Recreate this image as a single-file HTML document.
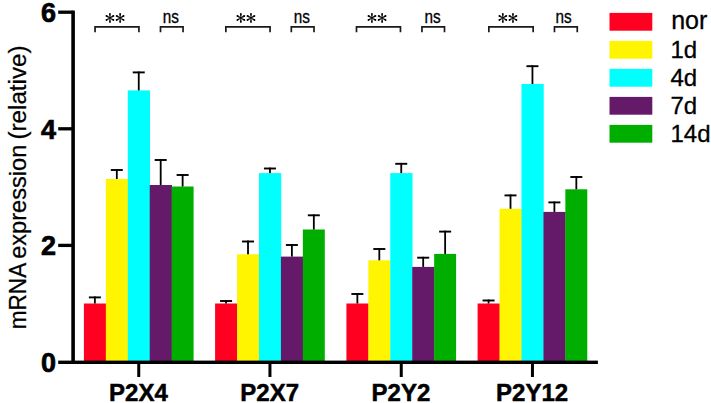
<!DOCTYPE html><html><head><meta charset="utf-8"><style>html,body{margin:0;padding:0;background:#fff;width:711px;height:403px;overflow:hidden}svg{display:block}text{font-family:"Liberation Sans",sans-serif}</style></head><body>
<svg width="711" height="403" viewBox="0 0 711 403">
<rect x="83.90" y="303.50" width="22.24" height="58.00" fill="#ff0020"/>
<rect x="105.84" y="179.00" width="22.24" height="182.50" fill="#fff500"/>
<rect x="127.78" y="90.40" width="22.24" height="271.10" fill="#00ffff"/>
<rect x="149.72" y="185.00" width="22.24" height="176.50" fill="#641a68"/>
<rect x="171.66" y="186.50" width="21.94" height="175.00" fill="#00ae00"/>
<rect x="215.10" y="303.50" width="22.24" height="58.00" fill="#ff0020"/>
<rect x="237.04" y="254.30" width="22.24" height="107.20" fill="#fff500"/>
<rect x="258.98" y="173.10" width="22.24" height="188.40" fill="#00ffff"/>
<rect x="280.92" y="256.60" width="22.24" height="104.90" fill="#641a68"/>
<rect x="302.86" y="229.50" width="21.94" height="132.00" fill="#00ae00"/>
<rect x="346.40" y="303.50" width="22.24" height="58.00" fill="#ff0020"/>
<rect x="368.34" y="260.30" width="22.24" height="101.20" fill="#fff500"/>
<rect x="390.28" y="173.10" width="22.24" height="188.40" fill="#00ffff"/>
<rect x="412.22" y="266.90" width="22.24" height="94.60" fill="#641a68"/>
<rect x="434.16" y="253.90" width="21.94" height="107.60" fill="#00ae00"/>
<rect x="477.60" y="303.50" width="22.24" height="58.00" fill="#ff0020"/>
<rect x="499.54" y="208.80" width="22.24" height="152.70" fill="#fff500"/>
<rect x="521.48" y="84.00" width="22.24" height="277.50" fill="#00ffff"/>
<rect x="543.42" y="211.90" width="22.24" height="149.60" fill="#641a68"/>
<rect x="565.36" y="189.30" width="21.94" height="172.20" fill="#00ae00"/>
<rect x="93.97" y="296.50" width="1.8" height="7.00" fill="#000"/>
<rect x="88.87" y="296.45" width="12" height="1.9" fill="#000"/>
<rect x="115.91" y="169.10" width="1.8" height="9.90" fill="#000"/>
<rect x="110.81" y="169.05" width="12" height="1.9" fill="#000"/>
<rect x="137.85" y="71.50" width="1.8" height="18.90" fill="#000"/>
<rect x="132.75" y="71.45" width="12" height="1.9" fill="#000"/>
<rect x="159.79" y="159.10" width="1.8" height="25.90" fill="#000"/>
<rect x="154.69" y="159.05" width="12" height="1.9" fill="#000"/>
<rect x="181.73" y="174.10" width="1.8" height="12.40" fill="#000"/>
<rect x="176.63" y="174.05" width="12" height="1.9" fill="#000"/>
<rect x="225.17" y="300.10" width="1.8" height="3.40" fill="#000"/>
<rect x="220.07" y="300.05" width="12" height="1.9" fill="#000"/>
<rect x="247.11" y="240.60" width="1.8" height="13.70" fill="#000"/>
<rect x="242.01" y="240.55" width="12" height="1.9" fill="#000"/>
<rect x="269.05" y="167.60" width="1.8" height="5.50" fill="#000"/>
<rect x="263.95" y="167.55" width="12" height="1.9" fill="#000"/>
<rect x="290.99" y="244.10" width="1.8" height="12.50" fill="#000"/>
<rect x="285.89" y="244.05" width="12" height="1.9" fill="#000"/>
<rect x="312.93" y="214.40" width="1.8" height="15.10" fill="#000"/>
<rect x="307.83" y="214.35" width="12" height="1.9" fill="#000"/>
<rect x="356.47" y="293.10" width="1.8" height="10.40" fill="#000"/>
<rect x="351.37" y="293.05" width="12" height="1.9" fill="#000"/>
<rect x="378.41" y="248.10" width="1.8" height="12.20" fill="#000"/>
<rect x="373.31" y="248.05" width="12" height="1.9" fill="#000"/>
<rect x="400.35" y="162.90" width="1.8" height="10.20" fill="#000"/>
<rect x="395.25" y="162.85" width="12" height="1.9" fill="#000"/>
<rect x="422.29" y="256.80" width="1.8" height="10.10" fill="#000"/>
<rect x="417.19" y="256.75" width="12" height="1.9" fill="#000"/>
<rect x="444.23" y="230.70" width="1.8" height="23.20" fill="#000"/>
<rect x="439.13" y="230.65" width="12" height="1.9" fill="#000"/>
<rect x="487.67" y="299.60" width="1.8" height="3.90" fill="#000"/>
<rect x="482.57" y="299.55" width="12" height="1.9" fill="#000"/>
<rect x="509.61" y="194.50" width="1.8" height="14.30" fill="#000"/>
<rect x="504.51" y="194.45" width="12" height="1.9" fill="#000"/>
<rect x="531.55" y="65.30" width="1.8" height="18.70" fill="#000"/>
<rect x="526.45" y="65.25" width="12" height="1.9" fill="#000"/>
<rect x="553.49" y="201.50" width="1.8" height="10.40" fill="#000"/>
<rect x="548.39" y="201.45" width="12" height="1.9" fill="#000"/>
<rect x="575.43" y="176.10" width="1.8" height="13.20" fill="#000"/>
<rect x="570.33" y="176.05" width="12" height="1.9" fill="#000"/>
<rect x="71.3" y="10.6" width="3.6" height="353.4" fill="#000"/>
<rect x="58.2" y="360.6" width="539.7" height="3.4" fill="#000"/>
<rect x="58.2" y="10.55" width="15" height="3.3" fill="#000"/>
<rect x="58.2" y="127.15" width="15" height="3.3" fill="#000"/>
<rect x="58.2" y="243.75" width="15" height="3.3" fill="#000"/>
<rect x="137.25" y="362" width="3" height="15" fill="#000"/>
<rect x="268.45" y="362" width="3" height="15" fill="#000"/>
<rect x="399.75" y="362" width="3" height="15" fill="#000"/>
<rect x="530.95" y="362" width="3" height="15" fill="#000"/>
<text x="56" y="371.80" font-size="27" font-weight="bold" text-anchor="end" stroke="#000" stroke-width="0.7">0</text>
<text x="56" y="255.20" font-size="27" font-weight="bold" text-anchor="end" stroke="#000" stroke-width="0.7">2</text>
<text x="56" y="138.60" font-size="27" font-weight="bold" text-anchor="end" stroke="#000" stroke-width="0.7">4</text>
<text x="56" y="22.00" font-size="27" font-weight="bold" text-anchor="end" stroke="#000" stroke-width="0.7">6</text>
<text x="138.45" y="401.2" font-size="24" font-weight="bold" text-anchor="middle" stroke="#000" stroke-width="0.5">P2X4</text>
<text x="269.65" y="401.2" font-size="24" font-weight="bold" text-anchor="middle" stroke="#000" stroke-width="0.5">P2X7</text>
<text x="400.95" y="401.2" font-size="24" font-weight="bold" text-anchor="middle" stroke="#000" stroke-width="0.5">P2Y2</text>
<text x="532.15" y="401.2" font-size="24" font-weight="bold" text-anchor="middle" stroke="#000" stroke-width="0.5">P2Y12</text>
<text transform="translate(26,329.20) rotate(-90) scale(0.9680,1)" font-size="23.3" stroke="#000" stroke-width="0.25">mRNA</text>
<text transform="translate(26,258.80) rotate(-90) scale(1.0130,1)" font-size="23.3" stroke="#000" stroke-width="0.25">expression</text>
<text transform="translate(26,139.60) rotate(-90) scale(1.0400,1)" font-size="23.3" stroke="#000" stroke-width="0.25">(relative)</text>
<path d="M95.06 32.3V26.9H138.93V32.3" fill="none" stroke="#1a1a1a" stroke-width="1.7"/>
<path d="M110.26 17.93L110.86 13.93L109.02 13.93L109.62 17.93ZM109.02 13.93a0.92 0.92 0 1 0 1.84 0a0.92 0.92 0 1 0 -1.84 0ZM109.62 17.93L109.02 21.93L110.86 21.93L110.26 17.93ZM109.02 21.93a0.92 0.92 0 1 0 1.84 0a0.92 0.92 0 1 0 -1.84 0ZM110.10 18.21L113.85 16.69L112.92 15.11L109.78 17.65ZM112.47 15.90a0.92 0.92 0 1 0 1.84 0a0.92 0.92 0 1 0 -1.84 0ZM110.10 17.65L106.96 15.11L106.03 16.69L109.78 18.21ZM105.57 15.90a0.92 0.92 0 1 0 1.84 0a0.92 0.92 0 1 0 -1.84 0ZM109.78 18.21L112.92 20.75L113.85 19.17L110.10 17.65ZM112.47 19.96a0.92 0.92 0 1 0 1.84 0a0.92 0.92 0 1 0 -1.84 0ZM109.78 17.65L106.03 19.17L106.96 20.75L110.10 18.21ZM105.57 19.96a0.92 0.92 0 1 0 1.84 0a0.92 0.92 0 1 0 -1.84 0ZM120.44 17.93L121.04 13.93L119.20 13.93L119.80 17.93ZM119.20 13.93a0.92 0.92 0 1 0 1.84 0a0.92 0.92 0 1 0 -1.84 0ZM119.80 17.93L119.20 21.93L121.04 21.93L120.44 17.93ZM119.20 21.93a0.92 0.92 0 1 0 1.84 0a0.92 0.92 0 1 0 -1.84 0ZM120.28 18.21L124.03 16.69L123.10 15.11L119.96 17.65ZM122.65 15.90a0.92 0.92 0 1 0 1.84 0a0.92 0.92 0 1 0 -1.84 0ZM120.28 17.65L117.14 15.11L116.21 16.69L119.96 18.21ZM115.75 15.90a0.92 0.92 0 1 0 1.84 0a0.92 0.92 0 1 0 -1.84 0ZM119.96 18.21L123.10 20.75L124.03 19.17L120.28 17.65ZM122.65 19.96a0.92 0.92 0 1 0 1.84 0a0.92 0.92 0 1 0 -1.84 0ZM119.96 17.65L116.21 19.17L117.14 20.75L120.28 18.21ZM115.75 19.96a0.92 0.92 0 1 0 1.84 0a0.92 0.92 0 1 0 -1.84 0Z" fill="#000"/>
<path d="M160.50 32.3V26.9H183.05V32.3" fill="none" stroke="#1a1a1a" stroke-width="1.7"/>
<text transform="translate(170.75,22.6) scale(0.87,1)" font-size="17.6" text-anchor="middle" stroke="#000" stroke-width="0.3">ns</text>
<path d="M225.85 32.3V26.9H270.07V32.3" fill="none" stroke="#1a1a1a" stroke-width="1.7"/>
<path d="M241.16 17.93L241.76 13.93L239.92 13.93L240.52 17.93ZM239.92 13.93a0.92 0.92 0 1 0 1.84 0a0.92 0.92 0 1 0 -1.84 0ZM240.52 17.93L239.92 21.93L241.76 21.93L241.16 17.93ZM239.92 21.93a0.92 0.92 0 1 0 1.84 0a0.92 0.92 0 1 0 -1.84 0ZM241.00 18.21L244.75 16.69L243.82 15.11L240.68 17.65ZM243.37 15.90a0.92 0.92 0 1 0 1.84 0a0.92 0.92 0 1 0 -1.84 0ZM241.00 17.65L237.86 15.11L236.93 16.69L240.68 18.21ZM236.47 15.90a0.92 0.92 0 1 0 1.84 0a0.92 0.92 0 1 0 -1.84 0ZM240.68 18.21L243.82 20.75L244.75 19.17L241.00 17.65ZM243.37 19.96a0.92 0.92 0 1 0 1.84 0a0.92 0.92 0 1 0 -1.84 0ZM240.68 17.65L236.93 19.17L237.86 20.75L241.00 18.21ZM236.47 19.96a0.92 0.92 0 1 0 1.84 0a0.92 0.92 0 1 0 -1.84 0ZM251.29 17.93L251.89 13.93L250.05 13.93L250.65 17.93ZM250.05 13.93a0.92 0.92 0 1 0 1.84 0a0.92 0.92 0 1 0 -1.84 0ZM250.65 17.93L250.05 21.93L251.89 21.93L251.29 17.93ZM250.05 21.93a0.92 0.92 0 1 0 1.84 0a0.92 0.92 0 1 0 -1.84 0ZM251.13 18.21L254.88 16.69L253.95 15.11L250.81 17.65ZM253.50 15.90a0.92 0.92 0 1 0 1.84 0a0.92 0.92 0 1 0 -1.84 0ZM251.13 17.65L247.99 15.11L247.06 16.69L250.81 18.21ZM246.60 15.90a0.92 0.92 0 1 0 1.84 0a0.92 0.92 0 1 0 -1.84 0ZM250.81 18.21L253.95 20.75L254.88 19.17L251.13 17.65ZM253.50 19.96a0.92 0.92 0 1 0 1.84 0a0.92 0.92 0 1 0 -1.84 0ZM250.81 17.65L247.06 19.17L247.99 20.75L251.13 18.21ZM246.60 19.96a0.92 0.92 0 1 0 1.84 0a0.92 0.92 0 1 0 -1.84 0Z" fill="#000"/>
<path d="M291.30 32.3V26.9H314.00V32.3" fill="none" stroke="#1a1a1a" stroke-width="1.7"/>
<text transform="translate(301.75,22.6) scale(0.87,1)" font-size="17.6" text-anchor="middle" stroke="#000" stroke-width="0.3">ns</text>
<path d="M356.50 32.3V26.9H400.46V32.3" fill="none" stroke="#1a1a1a" stroke-width="1.7"/>
<path d="M372.25 17.93L372.85 13.93L371.01 13.93L371.61 17.93ZM371.01 13.93a0.92 0.92 0 1 0 1.84 0a0.92 0.92 0 1 0 -1.84 0ZM371.61 17.93L371.01 21.93L372.85 21.93L372.25 17.93ZM371.01 21.93a0.92 0.92 0 1 0 1.84 0a0.92 0.92 0 1 0 -1.84 0ZM372.09 18.21L375.84 16.69L374.91 15.11L371.77 17.65ZM374.46 15.90a0.92 0.92 0 1 0 1.84 0a0.92 0.92 0 1 0 -1.84 0ZM372.09 17.65L368.95 15.11L368.02 16.69L371.77 18.21ZM367.56 15.90a0.92 0.92 0 1 0 1.84 0a0.92 0.92 0 1 0 -1.84 0ZM371.77 18.21L374.91 20.75L375.84 19.17L372.09 17.65ZM374.46 19.96a0.92 0.92 0 1 0 1.84 0a0.92 0.92 0 1 0 -1.84 0ZM371.77 17.65L368.02 19.17L368.95 20.75L372.09 18.21ZM367.56 19.96a0.92 0.92 0 1 0 1.84 0a0.92 0.92 0 1 0 -1.84 0ZM382.43 17.93L383.03 13.93L381.19 13.93L381.79 17.93ZM381.19 13.93a0.92 0.92 0 1 0 1.84 0a0.92 0.92 0 1 0 -1.84 0ZM381.79 17.93L381.19 21.93L383.03 21.93L382.43 17.93ZM381.19 21.93a0.92 0.92 0 1 0 1.84 0a0.92 0.92 0 1 0 -1.84 0ZM382.27 18.21L386.02 16.69L385.09 15.11L381.95 17.65ZM384.64 15.90a0.92 0.92 0 1 0 1.84 0a0.92 0.92 0 1 0 -1.84 0ZM382.27 17.65L379.13 15.11L378.20 16.69L381.95 18.21ZM377.74 15.90a0.92 0.92 0 1 0 1.84 0a0.92 0.92 0 1 0 -1.84 0ZM381.95 18.21L385.09 20.75L386.02 19.17L382.27 17.65ZM384.64 19.96a0.92 0.92 0 1 0 1.84 0a0.92 0.92 0 1 0 -1.84 0ZM381.95 17.65L378.20 19.17L379.13 20.75L382.27 18.21ZM377.74 19.96a0.92 0.92 0 1 0 1.84 0a0.92 0.92 0 1 0 -1.84 0Z" fill="#000"/>
<path d="M421.95 32.3V26.9H444.50V32.3" fill="none" stroke="#1a1a1a" stroke-width="1.7"/>
<text transform="translate(432.65,22.6) scale(0.87,1)" font-size="17.6" text-anchor="middle" stroke="#000" stroke-width="0.3">ns</text>
<path d="M488.86 32.3V26.9H533.16V32.3" fill="none" stroke="#1a1a1a" stroke-width="1.7"/>
<path d="M503.16 17.93L503.76 13.93L501.92 13.93L502.52 17.93ZM501.92 13.93a0.92 0.92 0 1 0 1.84 0a0.92 0.92 0 1 0 -1.84 0ZM502.52 17.93L501.92 21.93L503.76 21.93L503.16 17.93ZM501.92 21.93a0.92 0.92 0 1 0 1.84 0a0.92 0.92 0 1 0 -1.84 0ZM503.00 18.21L506.75 16.69L505.82 15.11L502.68 17.65ZM505.37 15.90a0.92 0.92 0 1 0 1.84 0a0.92 0.92 0 1 0 -1.84 0ZM503.00 17.65L499.86 15.11L498.93 16.69L502.68 18.21ZM498.47 15.90a0.92 0.92 0 1 0 1.84 0a0.92 0.92 0 1 0 -1.84 0ZM502.68 18.21L505.82 20.75L506.75 19.17L503.00 17.65ZM505.37 19.96a0.92 0.92 0 1 0 1.84 0a0.92 0.92 0 1 0 -1.84 0ZM502.68 17.65L498.93 19.17L499.86 20.75L503.00 18.21ZM498.47 19.96a0.92 0.92 0 1 0 1.84 0a0.92 0.92 0 1 0 -1.84 0ZM513.29 17.93L513.89 13.93L512.05 13.93L512.65 17.93ZM512.05 13.93a0.92 0.92 0 1 0 1.84 0a0.92 0.92 0 1 0 -1.84 0ZM512.65 17.93L512.05 21.93L513.89 21.93L513.29 17.93ZM512.05 21.93a0.92 0.92 0 1 0 1.84 0a0.92 0.92 0 1 0 -1.84 0ZM513.13 18.21L516.88 16.69L515.95 15.11L512.81 17.65ZM515.50 15.90a0.92 0.92 0 1 0 1.84 0a0.92 0.92 0 1 0 -1.84 0ZM513.13 17.65L509.99 15.11L509.06 16.69L512.81 18.21ZM508.60 15.90a0.92 0.92 0 1 0 1.84 0a0.92 0.92 0 1 0 -1.84 0ZM512.81 18.21L515.95 20.75L516.88 19.17L513.13 17.65ZM515.50 19.96a0.92 0.92 0 1 0 1.84 0a0.92 0.92 0 1 0 -1.84 0ZM512.81 17.65L509.06 19.17L509.99 20.75L513.13 18.21ZM508.60 19.96a0.92 0.92 0 1 0 1.84 0a0.92 0.92 0 1 0 -1.84 0Z" fill="#000"/>
<path d="M554.48 32.3V26.9H577.27V32.3" fill="none" stroke="#1a1a1a" stroke-width="1.7"/>
<text transform="translate(563.65,22.6) scale(0.87,1)" font-size="17.6" text-anchor="middle" stroke="#000" stroke-width="0.3">ns</text>
<rect x="609.5" y="12.90" width="42.8" height="17.8" fill="#ff0020"/>
<text x="671.2" y="29.30" font-size="25" stroke="#000" stroke-width="0.3">nor</text>
<rect x="609.5" y="40.90" width="42.8" height="17.8" fill="#fff500"/>
<text x="670.5" y="57.90" font-size="24" stroke="#000" stroke-width="0.3">1d</text>
<rect x="609.5" y="68.90" width="42.8" height="17.8" fill="#00ffff"/>
<text x="670.5" y="85.90" font-size="24" stroke="#000" stroke-width="0.3">4d</text>
<rect x="609.5" y="96.90" width="42.8" height="17.8" fill="#641a68"/>
<text x="670.5" y="113.90" font-size="24" stroke="#000" stroke-width="0.3">7d</text>
<rect x="609.5" y="124.90" width="42.8" height="17.8" fill="#00ae00"/>
<text x="670.5" y="141.90" font-size="24" stroke="#000" stroke-width="0.3">14d</text>
</svg></body></html>
